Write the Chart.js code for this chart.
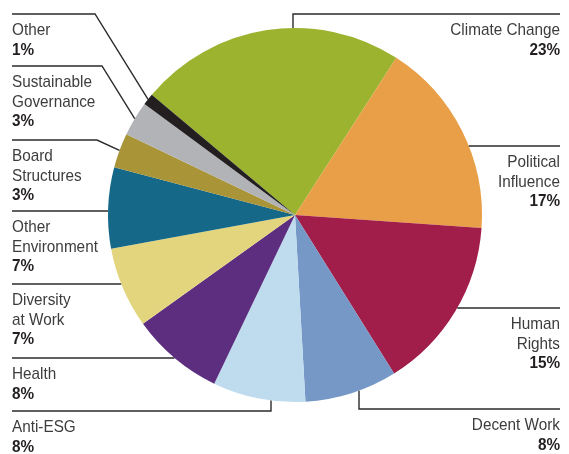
<!DOCTYPE html>
<html>
<head>
<meta charset="utf-8">
<script src="https://cdn.jsdelivr.net/npm/chart.js@4"></script>
<style>
  body { margin: 0; background: #fff; }
</style>
</head>
<body>
<canvas id="chart-1" width="569" height="454"></canvas>
<script>
  // Données du graphique
  const categories = ['Climate Change', 'Political Influence', 'Human Rights', 'Decent Work', 'Anti-ESG',
    'Health', 'Diversity at Work', 'Other Environment', 'Board Structures', 'Sustainable Governance', 'Other'];
  const shares = [23, 17, 15, 8, 8, 8, 7, 7, 3, 3, 1];
  const labelLines = [
    ['Climate Change'], ['Political', 'Influence'], ['Human', 'Rights'], ['Decent Work'], ['Anti-ESG'],
    ['Health'], ['Diversity', 'at Work'], ['Other', 'Environment'], ['Board', 'Structures'],
    ['Sustainable', 'Governance'], ['Other']
  ];
  const colours = ['#9bb32f', '#e99f47', '#a01e49', '#7698c6', '#bedcee', '#5d2e80',
    '#e2d57e', '#156887', '#a99438', '#b1b3b6', '#231f20'];

  // position des étiquettes et des traits de rappel
  const labelLayout = [
    { side: 'right', lineY: 14,  elbowX: 293, kind: 'vert' },
    { side: 'right', lineY: 146, kind: 'horiz' },
    { side: 'right', lineY: 308, kind: 'horiz' },
    { side: 'right', lineY: 409, elbowX: 359, kind: 'vert' },
    { side: 'left',  lineY: 411, elbowX: 271, kind: 'vert' },
    { side: 'left',  lineY: 358, kind: 'horiz' },
    { side: 'left',  lineY: 284, kind: 'horiz' },
    { side: 'left',  lineY: 211, kind: 'horiz' },
    { side: 'left',  lineY: 140, elbowX: 97,  kind: 'diag' },
    { side: 'left',  lineY: 66,  elbowX: 102, kind: 'diag' },
    { side: 'left',  lineY: 14,  elbowX: 95,  kind: 'diag' }
  ];

  const LEFT_X = 12;
  const RIGHT_X = 560;

  function drawText(ctx, text, x, y, font, colour, align) {
    ctx.save();
    ctx.font = font;
    ctx.fillStyle = colour;
    ctx.textBaseline = 'alphabetic';
    ctx.translate(x, y);
    ctx.scale(0.9, 1);
    ctx.textAlign = align;
    ctx.fillText(text, 0, 0);
    ctx.restore();
  }

  const leaderLabels = {
    id: 'leaderLabels',
    afterDraw(chart) {
      const ctx = chart.ctx;
      const meta = chart.getDatasetMeta(0);
      meta.data.forEach((arc, i) => {
        const p = arc.getProps(['x', 'y', 'startAngle', 'endAngle', 'outerRadius'], true);
        const lay = labelLayout[i];
        const left = lay.side === 'left';
        const textX = left ? LEFT_X : RIGHT_X;
        const pts = [[textX, lay.lineY]];
        if (lay.kind === 'diag') {
          const mid = (p.startAngle + p.endAngle) / 2;
          pts.push([lay.elbowX, lay.lineY]);
          pts.push([p.x + p.outerRadius * Math.cos(mid), p.y + p.outerRadius * Math.sin(mid)]);
        } else if (lay.kind === 'horiz') {
          const dy = lay.lineY - p.y;
          const dx = Math.sqrt(p.outerRadius * p.outerRadius - dy * dy);
          pts.push([left ? p.x - dx : p.x + dx, lay.lineY]);
        } else {
          const dx = lay.elbowX - p.x;
          const dy = Math.sqrt(p.outerRadius * p.outerRadius - dx * dx);
          pts.push([lay.elbowX, lay.lineY]);
          pts.push([lay.elbowX, lay.lineY < p.y ? p.y - dy : p.y + dy]);
        }
        ctx.save();
        ctx.strokeStyle = '#2b2b2b';
        ctx.lineWidth = 1.4;
        ctx.beginPath();
        ctx.moveTo(pts[0][0], pts[0][1]);
        for (let k = 1; k < pts.length; k++) ctx.lineTo(pts[k][0], pts[k][1]);
        ctx.stroke();
        ctx.restore();

        const align = left ? 'left' : 'right';
        let y = lay.lineY + 21;
        labelLines[i].forEach(t => {
          drawText(ctx, t, textX, y, '17px "Liberation Sans", Arial, sans-serif', '#3d3d3d', align);
          y += 19.5;
        });
        drawText(ctx, shares[i] + '%', textX, y, 'bold 17px "Liberation Sans", Arial, sans-serif', '#231f20', align);
      });
    }
  };

  const ctx = document.getElementById('chart-1');
  new Chart(ctx, {
    type: 'pie',
    data: {
      labels: categories,
      datasets: [{
        data: shares,
        backgroundColor: colours,
        borderWidth: 0,
        hoverOffset: 0
      }]
    },
    options: {
      responsive: false,
      animation: false,
      rotation: -50,
      layout: { padding: { left: 108, right: 87, top: 28, bottom: 52 } },
      plugins: {
        legend: { display: false },
        tooltip: { enabled: false }
      }
    },
    plugins: [leaderLabels]
  });
</script>
</body>
</html>
